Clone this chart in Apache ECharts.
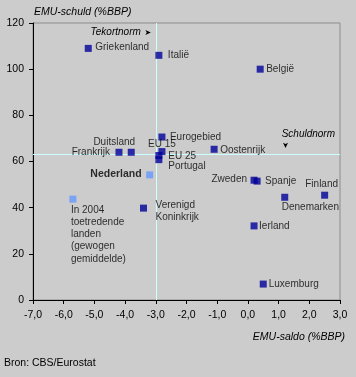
<!DOCTYPE html>
<html>
<head>
<meta charset="utf-8">
<script src="https://cdn.jsdelivr.net/npm/echarts@6/dist/echarts.min.js"></script>
<style>
html,body{margin:0;padding:0;background:#cccccc;}
#c{width:356px;height:377px;}
</style>
</head>
<body>
<div id="c"></div>
<script>
// ---- data ----
var countries = ['Griekenland','Italië','België','Eurogebied','EU 15','EU 25','Portugal','Duitsland','Frankrijk','Oostenrijk','Zweden','Spanje','Finland','Denemarken','Ierland','Luxemburg','Verenigd Koninkrijk'];
var countryLabels = ['Griekenland','Italië','België','Eurogebied','EU 15','EU 25','Portugal','Duitsland','Frankrijk','Oostenrijk','Zweden','Spanje','Finland','Denemarken','Ierland','Luxemburg','Verenigd\nKoninkrijk'];
var countrySaldo = [-5.2,-2.9,0.4,-2.8,-2.8,-2.9,-2.9,-3.8,-4.2,-1.1,0.2,0.3,2.5,1.2,0.2,0.5,-3.4];
var countrySchuld = [109,106,100,70.6,64.3,62.6,60.8,64,64,65.3,51.9,51.5,45.4,44.5,32.1,6.9,39.8];

var highlight = ['Nederland','In 2004 toetredende landen'];
var highlightLabels = ['Nederland','In 2004\ntoetredende\nlanden\n(gewogen\ngemiddelde)'];
var highlightSaldo = [-3.2,-5.7];
var highlightSchuld = [54.2,43.7];

var tekortnorm = -3;
var schuldnorm = 63;
var xTicks = [-7,3,1];
var yTicks = [0,120,20];

// ---- label placement (style, relative to marker centre) ----
var labelPlace = {
  'Griekenland':[7,-1,'left','middle'],
  'Italië':[9,0,'left','middle'],
  'België':[6,0,'left','middle'],
  'Eurogebied':[8,0,'left','middle'],
  'EU 15':[0,-7,'center','middle'],
  'EU 25':[9.5,1,'left','middle'],
  'Portugal':[9.5,6.5,'left','middle'],
  'Duitsland':[-17,-10,'center','middle'],
  'Frankrijk':[-9,0,'right','middle'],
  'Oostenrijk':[6,0.5,'left','middle'],
  'Zweden':[-7,-1,'right','middle'],
  'Spanje':[8,0,'left','middle'],
  'Finland':[-3,-11,'center','middle'],
  'Denemarken':[-3,9.5,'left','middle'],
  'Ierland':[5,0,'left','middle'],
  'Luxemburg':[5.5,0,'left','middle'],
  'Verenigd Koninkrijk':[12,3,'left','middle'],
  'Nederland':[-8,-0.5,'right','middle'],
  'In 2004 toetredende landen':[-2,4.5,'left','top']
};

var FONT = "'Liberation Sans', Arial, sans-serif";
var SYM = 7;

function makeData(names, labels, xs, ys, extra) {
  return names.map(function (n, i) {
    var p = labelPlace[n];
    var lab = {
      show: true,
      formatter: labels[i],
      position: [SYM/2 + p[0], SYM/2 + p[1]],
      align: p[2],
      verticalAlign: p[3],
      color: '#000',
      fontSize: 10,
      fontFamily: FONT,
      lineHeight: 12.3
    };
    if (extra && extra[n]) { for (var k in extra[n]) lab[k] = extra[n][k]; }
    return { name: n, value: [xs[i], ys[i]], label: lab };
  });
}

var chart = echarts.init(document.getElementById('c'), null, {renderer:'canvas'});
var option = {
  backgroundColor: '#cccccc',
  animation: false,
  grid: { left: 33, right: 16, top: 23, bottom: 77, show: true, borderColor: '#8c8c8c', borderWidth: 1, backgroundColor: 'transparent' },
  xAxis: {
    type: 'value', min: xTicks[0], max: xTicks[1], interval: xTicks[2],
    axisLine: { show: true, onZero: false, lineStyle: { color: '#000', width: 1 } },
    axisTick: { show: true, length: 4, lineStyle: { color: '#000' } },
    splitLine: { show: false },
    axisLabel: { color: '#000', fontSize: 10.5, fontFamily: FONT, margin: 10,
      formatter: function (v) { return v.toFixed(1).replace('.', ','); } }
  },
  yAxis: {
    type: 'value', min: yTicks[0], max: yTicks[1], interval: yTicks[2],
    axisLine: { show: true, onZero: false, lineStyle: { color: '#000', width: 1 } },
    axisTick: { show: true, length: 4, lineStyle: { color: '#000' } },
    splitLine: { show: false },
    axisLabel: { color: '#000', fontSize: 10.5, fontFamily: FONT, margin: 9 }
  },
  series: [
    {
      type: 'scatter', symbol: 'rect', symbolSize: SYM, silent: true, z: 3,
      itemStyle: { color: '#000099' },
      data: makeData(countries, countryLabels, countrySaldo, countrySchuld),
      markLine: {
        silent: true, symbol: ['none','none'], label: { show: false },
        lineStyle: { color: '#ccffff', type: 'solid', width: 1 },
        data: [ { xAxis: tekortnorm }, { yAxis: schuldnorm } ],
        z: 1
      }
    },
    {
      type: 'scatter', symbol: 'rect', symbolSize: SYM, silent: true, z: 3,
      itemStyle: { color: '#6699ff' },
      data: makeData(highlight, highlightLabels, highlightSaldo, highlightSchuld,
        { 'Nederland': { fontWeight: 'bold', fontSize: 10.5 } })
    }
  ]
};
chart.setOption(option);

// annotations positioned from the axes
var pT = chart.convertToPixel({gridIndex:0}, [tekortnorm, 117]);
var pS = chart.convertToPixel({gridIndex:0}, [2.5, schuldnorm]);
chart.setOption({
  graphic: [
    { type: 'text', left: 34, top: 7, style: { text: 'EMU-schuld (%BBP)', font: 'italic 10.5px ' + FONT, fill: '#000' } },
    { type: 'text', right: 11, top: 332, style: { text: 'EMU-saldo (%BBP)', font: 'italic 10.5px ' + FONT, fill: '#000' } },
    { type: 'text', left: 4, top: 358, style: { text: 'Bron: CBS/Eurostat', font: '10.5px ' + FONT, fill: '#000' } },
    { type: 'text', x: pT[0] - 15, y: pT[1] + 2.5, style: { text: 'Tekortnorm', font: 'italic 10px ' + FONT, fill: '#000', align: 'right', verticalAlign: 'middle' } },
    { type: 'text', x: pT[0] - 8, y: pT[1] + 2.5, style: { text: '➤', font: '8px DejaVu Sans', fill: '#000', align: 'center', verticalAlign: 'middle' } },
    { type: 'text', x: pS[0] - 43, y: pS[1] - 20, style: { text: 'Schuldnorm', font: 'italic 10px ' + FONT, fill: '#000', align: 'left', verticalAlign: 'middle' } },
    { type: 'text', x: pS[0] - 39.5, y: pS[1] - 9.5, rotation: -Math.PI/2, style: { text: '➤', font: '8px DejaVu Sans', fill: '#000', align: 'center', verticalAlign: 'middle' } }
  ]
});
</script>
</body>
</html>
